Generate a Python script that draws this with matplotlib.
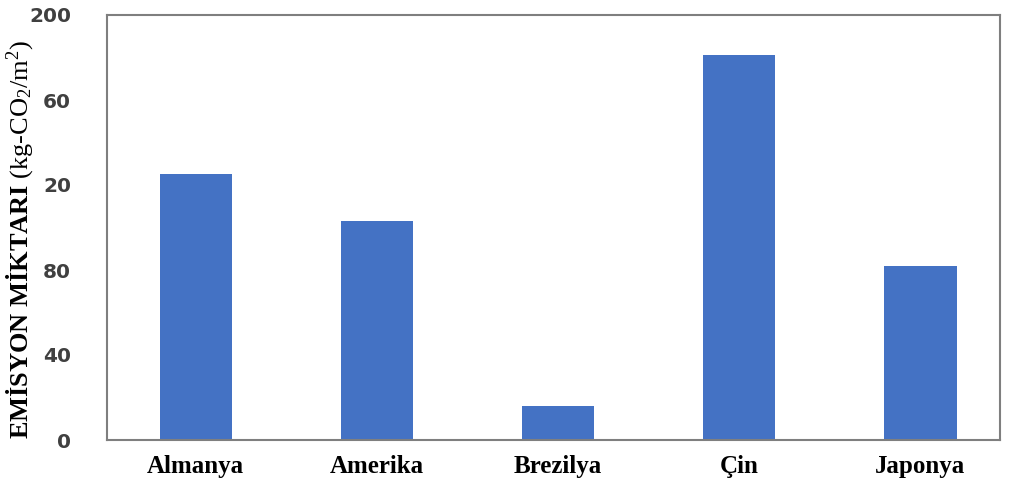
import matplotlib
matplotlib.use("Agg")
import matplotlib.pyplot as plt

# data
countries = ["Almanya", "Amerika", "Brezilya", "Çin", "Japonya"]
emissions = [125, 103, 16, 181, 82]
ytick_vals = [0, 40, 80, 120, 160, 200]
ytick_labels = ["0", "40", "80", "20", "60", "200"]  # as printed in the source

plt.rcParams["mathtext.fontset"] = "custom"
plt.rcParams["mathtext.rm"] = "Liberation Serif"
plt.rcParams["mathtext.bf"] = "Liberation Serif:bold"
plt.rcParams["mathtext.it"] = "Liberation Serif:italic"

fig = plt.figure(figsize=(10.11, 4.86), dpi=100)
ax = fig.add_axes([107/1011, 46/486, 893/1011, 425/486])

ax.bar(range(len(countries)), emissions, width=0.40, color="#4472C4")
ax.set_xlim(-0.49, 4.44)
ax.set_ylim(0, 200)

ax.set_yticks(ytick_vals)
ax.set_yticklabels(ytick_labels, fontsize=14.5, fontweight="bold",
                   color="#404040", family="DejaVu Sans")
ax.set_xticks(range(len(countries)))
ax.set_xticklabels(countries, fontsize=18, fontweight="bold",
                   family="Liberation Serif")
ax.tick_params(length=0)
ax.tick_params(axis="x", pad=11)
ax.tick_params(axis="y", pad=26)

for s in ax.spines.values():
    s.set_color("#7f7f7f")
    s.set_linewidth(1.5)

fig.text(20/1011, 1 - 240/486,
         r"$\mathbf{EMİSYON\ MİKTARI}$ (kg-CO$_2$/m$^2$)",
         fontsize=19, family="Liberation Serif", rotation=90,
         ha="center", va="center")

fig.savefig("out.png", dpi=100)
